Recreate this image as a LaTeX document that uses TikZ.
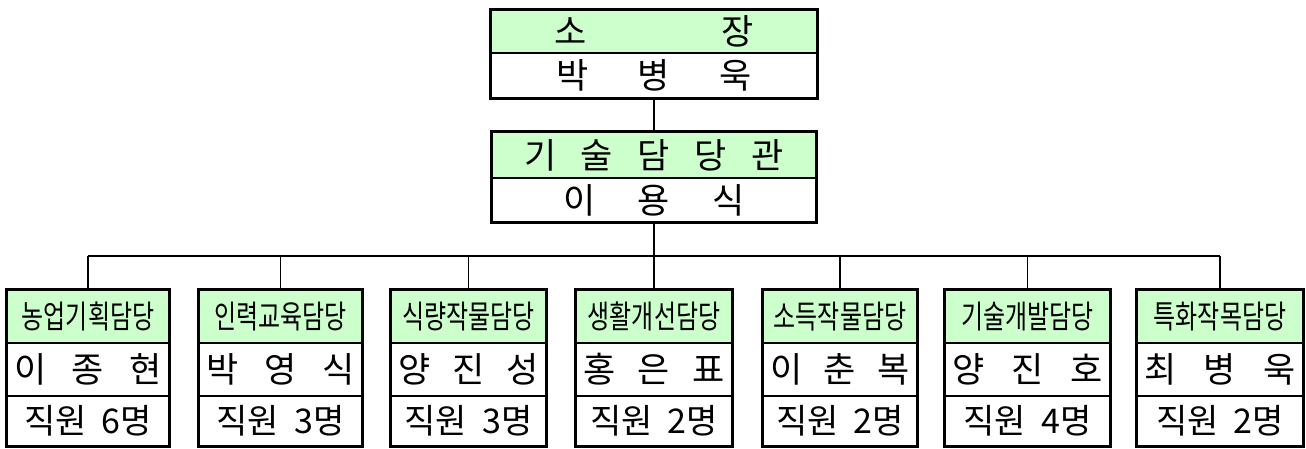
\documentclass[tikz,border=0pt]{standalone}
\usepackage{fontspec}
\setmainfont{Noto Sans CJK KR}
\newfontfamily\condf{Noto Sans CJK KR}[FakeStretch=0.75]
\definecolor{lg}{HTML}{CCFFCC}
\begin{document}
\begin{tikzpicture}[x=1pt,y=-1pt,
 cell/.style={draw,line width=1.2pt,inner sep=0pt,anchor=center},
 gcell/.style={cell,fill=lg},
 frame/.style={line width=3pt},
 conn/.style={line width=1.1pt},
 bigf/.style={font=\fontsize{35}{35}\selectfont},
 labf/.style={font=\condf\fontsize{32}{32}\selectfont},
 cntf/.style={font=\fontsize{34}{34}\selectfont}]
\useasboundingbox (0,0) rectangle (1306,448);
% top box
\node[gcell,bigf,minimum width=326pt,minimum height=43pt] (topt) at (654,31.5) {\makebox[200pt][s]{소\hfill 장}};
\node[cell,bigf,minimum width=326pt,minimum height=45pt] (topn) at (654,75.5) {\makebox[196pt][s]{박\hfill 병\hfill 욱}};
\draw[frame] (topt.north west) rectangle (topn.south east);
% middle box
\node[gcell,bigf,minimum width=324pt,minimum height=46pt] (midt) at (654,155) {\makebox[260pt][s]{기\hfill 술\hfill 담\hfill 당\hfill 관}};
\node[cell,bigf,minimum width=324pt,minimum height=44pt] (midn) at (654,200) {\makebox[182pt][s]{이\hfill 용\hfill 식}};
\draw[frame] (midt.north west) rectangle (midn.south east);
\draw[conn] (topn.south) -- (midt.north);
% bottom boxes
\foreach \i/\x/\w/\lab/\a/\b/\c/\cnt in {
 1/88/162/농업기획담당/이/종/현/6,
 2/280.5/163/인력교육담당/박/영/식/3,
 3/468.5/155/식량작물담당/양/진/성/3,
 4/654/156/생활개선담당/홍/은/표/2,
 5/840/154/소득작물담당/이/춘/복/2,
 6/1027.5/165/기술개발담당/양/진/호/4,
 7/1220/165/특화작목담당/최/병/욱/2}{
 \pgfmathsetmacro{\tw}{\w-14}
 \node[gcell,labf,minimum width=\w pt,minimum height=53pt] (t\i) at (\x,316.5) {\lab};
 \node[cell,bigf,minimum width=\w pt,minimum height=53pt] (n\i) at (\x,369.5) {\makebox[\tw pt][s]{\a\hfill\b\hfill\c}};
 \node[cell,cntf,minimum width=\w pt,minimum height=50pt] (c\i) at (\x,421) {직원\hspace{15pt}\cnt 명};
 \draw[frame] (t\i.north west) rectangle (c\i.south east);
 \coordinate (h\i) at (\x,256);
 \draw[conn] (h\i) -- (t\i.north);
}
\draw[conn] (h1) -- (h7);
\draw[conn] (midn.south) -- (h4);
\end{tikzpicture}
\end{document}
